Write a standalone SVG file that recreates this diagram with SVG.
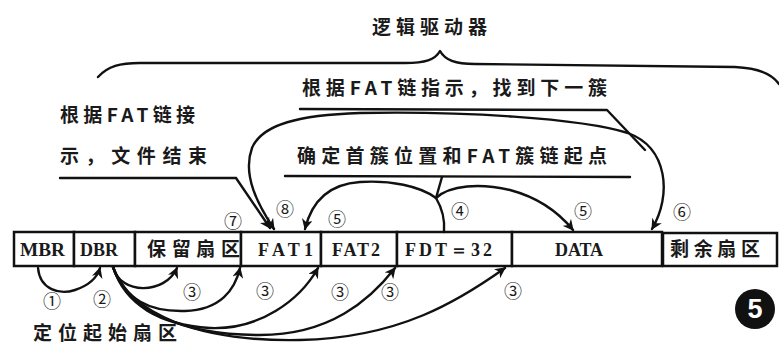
<svg xmlns="http://www.w3.org/2000/svg" width="779" height="347" viewBox="0 0 779 347">
<style>
.cell{fill:#fff;stroke:#111;stroke-width:2.5}
.lat{font-family:"Liberation Serif","DejaVu Serif",serif;font-weight:bold;font-size:18px;fill:#1a1a1a}
.cjk{font-family:"Noto Sans CJK SC","Noto Sans CJK JP",sans-serif;font-weight:bold;font-size:19px;fill:#1a1a1a}
.num{font-family:"Noto Sans CJK SC","DejaVu Sans",sans-serif;font-size:18px;fill:#1a1a1a;text-anchor:middle}
.ln{fill:none;stroke:#111;stroke-width:2.4;stroke-linecap:round;stroke-linejoin:round}
.ar{fill:none;stroke:#111;stroke-width:2.4;stroke-linecap:round;marker-end:url(#ah)}
</style>
<defs>
<marker id="ah" viewBox="0 0 10 10" refX="9" refY="5" markerWidth="11" markerHeight="11" markerUnits="userSpaceOnUse" orient="auto-start-reverse">
<path d="M0,0 L10,5 L0,10 L3,5 z" fill="#111"/>
</marker>
</defs>
<rect width="779" height="347" fill="#fff"/>

<g id="title">
<text class="cjk" x="372" y="34" textLength="115" lengthAdjust="spacing">逻辑驱动器</text>
<path class="ln" d="M98,77 C108,66 120,63 140,63 L405,63 C425,63 435,60 440,51 C445,60 455,64 475,64 L735,67 C758,68 772,74 779,84"/>
</g>

<g id="label-next">
<text class="cjk" x="302" y="95" textLength="305" lengthAdjust="spacing">根据FAT链指示，找到下一簇</text>
</g>
<g id="label-end">
<text class="cjk" x="60" y="122" textLength="135" lengthAdjust="spacing">根据FAT链接</text>
<text class="cjk" x="60" y="163" textLength="147" lengthAdjust="spacing">示，文件结束</text>
</g>
<g id="label-first">
<text class="cjk" x="297" y="163" textLength="310" lengthAdjust="spacing">确定首簇位置和FAT簇链起点</text>
</g>
<g id="label-locate">
<text class="cjk" x="33" y="340" textLength="144" lengthAdjust="spacing">定位起始扇区</text>
</g>

<g id="MBR"><rect class="cell" x="14" y="232" width="60" height="34"/><text class="lat" x="20" y="256" textLength="45" lengthAdjust="spacingAndGlyphs">MBR</text></g>
<g id="DBR"><rect class="cell" x="74" y="232" width="61" height="34"/><text class="lat" x="80" y="256" textLength="38" lengthAdjust="spacingAndGlyphs">DBR</text></g>
<g id="reserved"><rect class="cell" x="135" y="232" width="106" height="34"/><text class="cjk" x="147" y="256" textLength="93" lengthAdjust="spacing">保留扇区</text></g>
<g id="FAT1"><rect class="cell" x="241" y="232" width="80" height="34"/><text class="lat" x="258" y="256" textLength="55" lengthAdjust="spacing">FAT1</text></g>
<g id="FAT2"><rect class="cell" x="321" y="232" width="76" height="34"/><text class="lat" x="332" y="256" textLength="48" lengthAdjust="spacing">FAT2</text></g>
<g id="FDT"><rect class="cell" x="397" y="232" width="115" height="34"/><text class="lat" x="405" y="256" textLength="87" lengthAdjust="spacing">FDT＝32</text></g>
<g id="DATA"><rect class="cell" x="512" y="232" width="150" height="34"/><text class="lat" x="555" y="256" textLength="48" lengthAdjust="spacing">DATA</text></g>
<g id="remaining"><rect class="cell" x="663" y="233" width="114" height="33"/><text class="cjk" x="670" y="256" textLength="90" lengthAdjust="spacing">剩余扇区</text></g>

<g id="badge">
<circle cx="755" cy="309" r="20" fill="#111"/>
<text x="755" y="318" text-anchor="middle" font-family="Liberation Sans,Arial,sans-serif" font-weight="bold" font-size="27" fill="#fff">5</text>
</g>

<g id="connectors">
<path class="ln" d="M300,109 L607,110 L645,150"/>
<path class="ar" d="M60,178 L236,178 L270,228"/>
<path class="ar" style="marker-start:url(#ah)" d="M274,229 C258,205 242,175 252,148 C262,124 300,115 360,113 C460,111 580,118 628,133 C668,148 672,195 652,229"/>
<path class="ln" d="M285,176 L630,177"/>
<path class="ln" d="M442,177 L436,198 C442,208 445,220 444,232"/>
<path class="ar" d="M436,198 C450,185 480,183 510,190 C540,198 560,214 573,230"/>
<path class="ar" d="M436,198 C420,186 390,180 360,182 C330,184 312,200 305,229"/>
<path class="ar" d="M38,268 C40,290 60,295 75,290 C90,285 97,278 100,268"/>
<path class="ar" d="M113,267 C120,295 165,295 177,268"/>
<path class="ar" d="M113,267 C125,300 150,312 185,311 C220,310 235,290 240,268"/>
<path class="ar" d="M113,267 C125,305 160,325 210,328 C260,330 300,300 318,268"/>
<path class="ar" d="M113,267 C128,310 180,335 260,335 C330,335 370,300 395,268"/>
<path class="ar" d="M113,267 C130,315 200,342 300,340 C400,338 460,300 505,268"/>
</g>

<g id="step-labels">
<text class="num" x="233" y="228">⑦</text>
<text class="num" x="285" y="216">⑧</text>
<text class="num" x="337" y="226">⑤</text>
<text class="num" x="460" y="218">④</text>
<text class="num" x="583" y="218">⑤</text>
<text class="num" x="682" y="219">⑥</text>
<text class="num" x="52" y="308">①</text>
<text class="num" x="102" y="306">②</text>
<text class="num" x="192" y="299">③</text>
<text class="num" x="265" y="298">③</text>
<text class="num" x="340" y="299">③</text>
<text class="num" x="390" y="299">③</text>
<text class="num" x="513" y="298">③</text>
</g>
</svg>
